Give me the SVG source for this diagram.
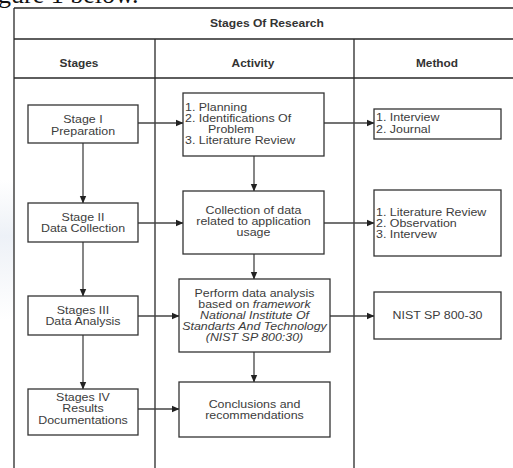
<svg xmlns="http://www.w3.org/2000/svg" width="513" height="468" viewBox="0 0 513 468">
  <style>
    .grid { stroke: #2a2a2a; stroke-width: 1.3; fill: none; }
    .box { fill: #ffffff; stroke: #333333; stroke-width: 1.3; }
    .t { font-family: "Liberation Sans", Arial, sans-serif; font-size: 10.8px; fill: #3c3c3c; }
    .c { text-anchor: middle; }
    .hd { font-family: "Liberation Sans", Arial, sans-serif; font-size: 10.4px; font-weight: bold; fill: #333333; text-anchor: middle; }
    .it { font-style: italic; }
    .link { stroke: #444444; stroke-width: 1.3; fill: none; marker-end: url(#arrow); }
  </style>
  <defs>
    <marker id="arrow" markerWidth="8" markerHeight="8" refX="7" refY="4" orient="auto" markerUnits="userSpaceOnUse">
      <path d="M0,0.8 L7.5,4 L0,7.2 Z" fill="#222222"/>
    </marker>
    <linearGradient id="haze" x1="0" y1="0" x2="0" y2="1">
      <stop offset="0" stop-color="#eef1f6" stop-opacity="0"/>
      <stop offset="0.4" stop-color="#edf1f7" stop-opacity="1"/>
      <stop offset="1" stop-color="#eef1f6" stop-opacity="0"/>
    </linearGradient>
  </defs>

  <rect width="513" height="468" fill="#ffffff"/>
  <!-- faint page background at the left margin -->
  <rect x="0" y="180" width="14" height="140" fill="url(#haze)"/>

  <!-- running text line of the page above the figure -->
  <text x="-2" y="2.5" font-family="'Liberation Serif', 'Times New Roman', serif" font-size="26" fill="#111111">gure 1 below.</text>

  <!-- table frame -->
  <g id="table">
    <path class="grid" d="M14,8 H520 M14,39 H520 M14,78 H520 M14,8 V475 M155,39 V475 M354,39 V475"/>
    <text class="hd" transform="translate(267,0) scale(1.16,1)" x="0" y="27.5">Stages Of Research</text>
    <text class="hd" transform="translate(79,0) scale(1.14,1)" x="0" y="67.5">Stages</text>
    <text class="hd" transform="translate(253,0) scale(1.14,1)" x="0" y="67.5">Activity</text>
    <text class="hd" transform="translate(437,0) scale(1.14,1)" x="0" y="67.5">Method</text>
  </g>

  <!-- connectors -->
  <g id="connectors">
    <path class="link" d="M83,143 V203"/>
    <path class="link" d="M83,242 V296"/>
    <path class="link" d="M83,335 V389"/>
    <path class="link" d="M254,156 V191"/>
    <path class="link" d="M254,254 V279"/>
    <path class="link" d="M254,352 V382"/>
    <path class="link" d="M138,123 H183"/>
    <path class="link" d="M324,123 H374"/>
    <path class="link" d="M138,223 H183"/>
    <path class="link" d="M324,223 H374"/>
    <path class="link" d="M138,316 H179"/>
    <path class="link" d="M330,316 H374"/>
    <path class="link" d="M138,409 H179"/>
  </g>

  <!-- stages column -->
  <g id="stage1">
    <rect class="box" x="28" y="105" width="110" height="38"/>
    <text class="t c" transform="translate(83,0) scale(1.15,1)"><tspan x="0" y="123">Stage I</tspan><tspan x="0" y="135">Preparation</tspan></text>
  </g>
  <g id="stage2">
    <rect class="box" x="28" y="203" width="110" height="39"/>
    <text class="t c" transform="translate(83,0) scale(1.15,1)"><tspan x="0" y="221">Stage II</tspan><tspan x="0" y="232.5">Data Collection</tspan></text>
  </g>
  <g id="stage3">
    <rect class="box" x="28" y="296" width="110" height="39"/>
    <text class="t c" transform="translate(83,0) scale(1.15,1)"><tspan x="0" y="314">Stages III</tspan><tspan x="0" y="325.5">Data Analysis</tspan></text>
  </g>
  <g id="stage4">
    <rect class="box" x="28" y="389" width="110" height="46"/>
    <text class="t c" transform="translate(83,0) scale(1.15,1)"><tspan x="0" y="401">Stages IV</tspan><tspan x="0" y="412.5">Results</tspan><tspan x="0" y="424">Documentations</tspan></text>
  </g>

  <!-- activity column -->
  <g id="activity1">
    <rect class="box" x="183" y="93" width="141" height="63"/>
    <text class="t" transform="translate(185,0) scale(1.15,1)"><tspan x="0" y="111">1. Planning</tspan><tspan x="0" y="122">2. Identifications Of</tspan><tspan x="20" y="133">Problem</tspan><tspan x="0" y="144">3. Literature Review</tspan></text>
  </g>
  <g id="activity2">
    <rect class="box" x="183" y="191" width="141" height="63"/>
    <text class="t c" transform="translate(253.5,0) scale(1.15,1)"><tspan x="0" y="214">Collection of data</tspan><tspan x="0" y="225">related to application</tspan><tspan x="0" y="236">usage</tspan></text>
  </g>
  <g id="activity3">
    <rect class="box" x="179" y="279" width="151" height="73"/>
    <text class="t c" transform="translate(254.5,0) scale(1.15,1)"><tspan x="0" y="297">Perform data analysis</tspan><tspan x="0" y="308">based on <tspan class="it">framework</tspan></tspan><tspan class="it" x="0" y="319">National Institute Of</tspan><tspan class="it" x="0" y="330">Standarts And Technology</tspan><tspan class="it" x="0" y="341">(NIST SP 800:30)</tspan></text>
  </g>
  <g id="activity4">
    <rect class="box" x="179" y="382" width="151" height="55"/>
    <text class="t c" transform="translate(254.5,0) scale(1.15,1)"><tspan x="0" y="408">Conclusions and</tspan><tspan x="0" y="419.5">recommendations</tspan></text>
  </g>

  <!-- method column -->
  <g id="method1">
    <rect class="box" x="374" y="109" width="127" height="30"/>
    <text class="t" transform="translate(376,0) scale(1.15,1)"><tspan x="0" y="121">1. Interview</tspan><tspan x="0" y="133">2. Journal</tspan></text>
  </g>
  <g id="method2">
    <rect class="box" x="374" y="190" width="127" height="66"/>
    <text class="t" transform="translate(376,0) scale(1.15,1)"><tspan x="0" y="216">1. Literature Review</tspan><tspan x="0" y="227">2. Observation</tspan><tspan x="0" y="238">3. Intervew</tspan></text>
  </g>
  <g id="method3">
    <rect class="box" x="374" y="292" width="127" height="47"/>
    <text class="t c" transform="translate(437.5,0) scale(1.15,1)" x="0" y="319">NIST SP 800-30</text>
  </g>
</svg>
